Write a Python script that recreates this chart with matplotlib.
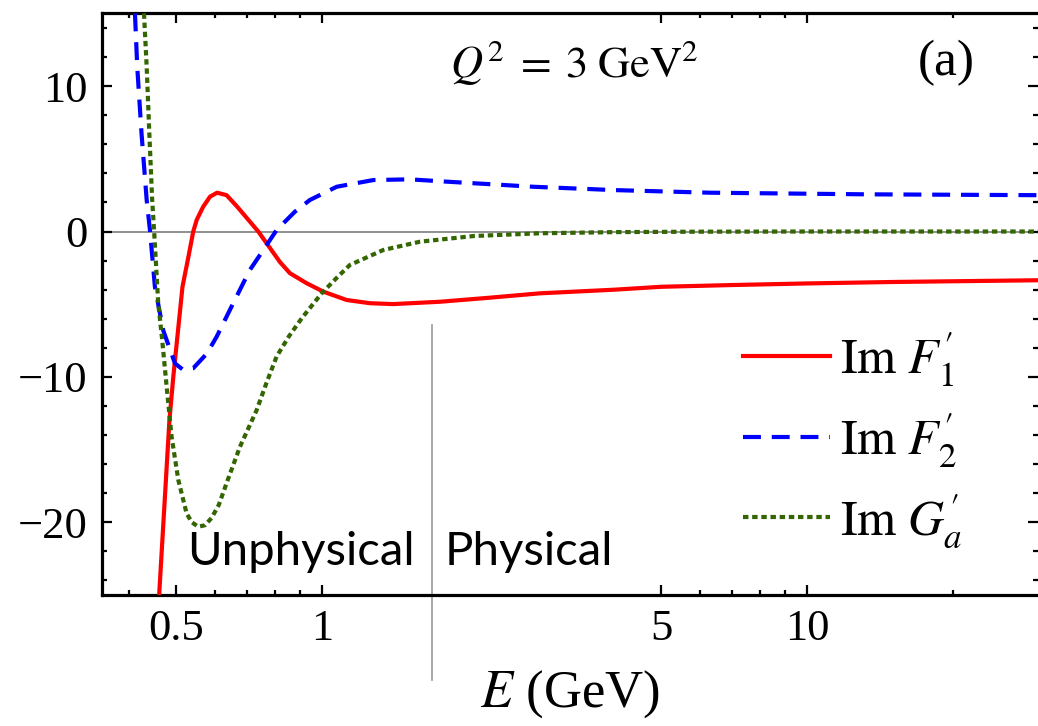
import matplotlib
matplotlib.use('Agg')
import matplotlib.pyplot as plt
from matplotlib.ticker import FixedLocator, MultipleLocator, NullFormatter

plt.rcParams['font.family'] = 'Liberation Serif'
plt.rcParams['mathtext.fontset'] = 'stix'

# Im F1' (solid red)
e_f1 = [0.461, 0.484, 0.493, 0.515, 0.530, 0.542, 0.551, 0.568, 0.587, 0.607,
        0.635, 0.666, 0.676, 0.738, 0.768, 0.818, 0.858, 0.929, 1.006, 1.123,
        1.254, 1.40, 1.748, 2.216, 2.81, 4.0, 5.0, 7.0, 10.0, 15.0,
        20.0, 30.0]
im_f1 = [-25.0, -13.0, -10.0, -3.8, -1.7, 0.0, 0.8, 1.7, 2.4, 2.67,
         2.5, 1.75, 1.5, 0.0, -0.81, -2.1, -2.87, -3.56, -4.14, -4.71,
         -4.93, -4.99, -4.83, -4.55, -4.25, -4.0, -3.8, -3.68, -3.57, -3.47,
         -3.42, -3.35]

# Im F2' (dashed blue)
e_f2 = [0.411, 0.4155, 0.424, 0.4345, 0.4413, 0.4518, 0.470, 0.497, 0.516, 0.542,
        0.578, 0.6056, 0.655, 0.709, 0.755, 0.805, 0.878, 0.943, 1.071, 1.274,
        1.516, 1.805, 2.18, 2.72, 4.0, 6.3, 13.1, 30.0]
im_f2 = [15.0, 11.3, 6.75, 2.17, 0.1, -3.8, -6.8, -9.07, -9.5, -9.4,
         -8.4, -7.24, -4.94, -2.65, -1.3, 0.1, 1.36, 2.17, 3.08, 3.54,
         3.59, 3.43, 3.27, 3.08, 2.85, 2.67, 2.56, 2.5]

# Im Ga' (dotted green)
e_ga = [0.429, 0.4345, 0.440, 0.446, 0.450, 0.459, 0.467, 0.4777, 0.489, 0.505,
        0.5253, 0.5386, 0.555, 0.573, 0.5913, 0.612, 0.635, 0.6766, 0.732, 0.7656,
        0.805, 0.854, 0.907, 0.997, 1.07, 1.14, 1.336, 1.59, 2.05, 2.81,
        4.0, 6.0, 10.0, 30.0]
im_ga = [15.0, 11.33, 6.75, 2.17, 0.1, -4.94, -7.24, -10.67, -14.1, -17.1,
         -19.4, -20.0, -20.3, -20.2, -19.7, -18.8, -17.3, -14.8, -12.3, -10.5,
         -8.6, -7.2, -5.97, -4.25, -3.2, -2.3, -1.27, -0.7, -0.31, -0.12,
         -0.04, -0.01, 0.0, 0.0]

x_major = [0.5, 1, 5, 10]
x_labels = ['0.5', '1', '5', '10']
x_minor = [0.4, 0.6, 0.7, 0.8, 0.9, 6, 7, 8, 9, 20]
e_threshold = 1.686

fig = plt.figure(figsize=(10.38, 7.26), dpi=100)
ax = fig.add_axes([0.098, 0.1804, 0.902, 0.8011])

ax.axhline(0, color='#888888', lw=1.3, zorder=1)
ax.plot(e_f1, im_f1, color='#ff0000', lw=3.0, label=r"$\mathrm{Im}\ F_1'$", zorder=3)
ax.plot(e_f2, im_f2, color='#0000ff', lw=3.0, dashes=(4.3, 2.6),
        label=r"$\mathrm{Im}\ F_2'$", zorder=3)
ax.plot(e_ga, im_ga, color='#336600', lw=3.0, dashes=(1.3, 0.9),
        label=r"$\mathrm{Im}\ G_a'$", zorder=3)

ax.set_xscale('log')
ax.set_xlim(0.351, 29.9)
ax.set_ylim(-25, 15)

# threshold marker, runs below the frame
trans = ax.get_xaxis_transform()
ax.plot([e_threshold, e_threshold], [0.464, -0.146], transform=trans,
        color='#999999', lw=1.2, clip_on=False, zorder=2)

ax.text(0.3346, 0.052, 'Unphysical', transform=ax.transAxes, ha='right',
        va='baseline', fontsize=34, family='Lato')
ax.text(0.3666, 0.052, 'Physical', transform=ax.transAxes, ha='left',
        va='baseline', fontsize=34, family='Lato')

ax.text(0.372, 0.915, r"$Q^2\;=\;3\;\mathrm{GeV}^2$", transform=ax.transAxes,
        fontsize=32, va='center', ha='left')
ax.text(0.872, 0.915, '(a)', transform=ax.transAxes, fontsize=37,
        va='center', ha='left')

ax.xaxis.set_major_locator(FixedLocator(x_major))
ax.xaxis.set_minor_locator(FixedLocator(x_minor))
ax.set_xticklabels(x_labels)
ax.xaxis.set_minor_formatter(NullFormatter())
ax.yaxis.set_major_locator(MultipleLocator(10))
ax.yaxis.set_minor_locator(MultipleLocator(2))
ax.set_yticks([-20, -10, 0, 10])
ax.set_yticklabels(['\u221220', '\u221210', '0', '10'])

ax.tick_params(which='both', direction='in', top=True, right=True,
               labelsize=32, width=1.6, color='black')
ax.tick_params(which='major', length=7)
ax.tick_params(which='minor', length=3.5)
ax.tick_params(axis='x', pad=10)
ax.tick_params(axis='y', pad=10)

for side in ['left', 'top', 'bottom']:
    ax.spines[side].set_linewidth(2.3)
ax.spines['right'].set_visible(False)

ax.set_xlabel(r"$E$ (GeV)", fontsize=38, labelpad=14)

ax.legend(loc='center left', bbox_to_anchor=(0.685, 0.2665), frameon=False,
          fontsize=36, borderpad=0, borderaxespad=0, handlelength=1.74,
          handletextpad=0.2, labelspacing=0.45)

fig.savefig('out.png', dpi=100)
